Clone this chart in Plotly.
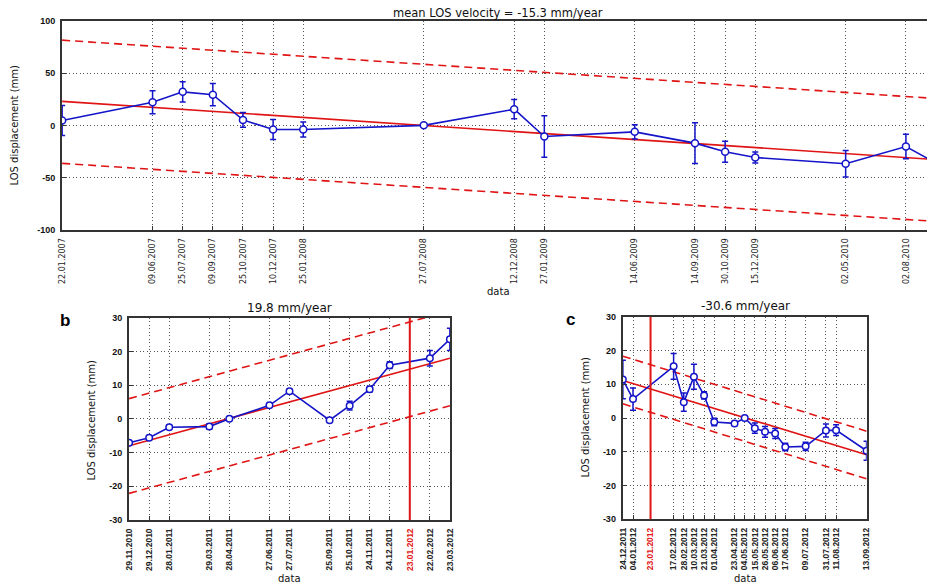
import plotly.graph_objects as go
import pandas as pd

# ---------------- data ----------------
# panel a (top)
dates_a = ["2007-01-22", "2007-06-09", "2007-07-25", "2007-09-09", "2007-10-25", "2007-12-10",
           "2008-01-25", "2008-07-27", "2008-12-12", "2009-01-27", "2009-06-14", "2009-09-14",
           "2009-10-30", "2009-12-15", "2010-05-02", "2010-08-02", "2010-09-17"]
disp_a = [4.6, 22, 32, 29.3, 5.2, -4, -4, 0, 15.4, -10.7, -6.2, -17, -25.2, -30.7, -36.7, -20.2, -36]
err_a = [14.3, 11, 9.7, 10.6, 7, 9.5, 7.1, 0, 9.2, 19.8, 6.8, 19.5, 10, 5.2, 12.7, 11.7, 14.5]
fit_a_x = ["2007-01-22", "2010-09-28"]
fit_a = [22.9, -33.2]
upper_a = [81.4, 25.2]
lower_a = [-36.3, -92.3]

# panel b
dates_b = ["2010-11-29", "2010-12-29", "2011-01-28", "2011-03-29", "2011-04-28", "2011-06-27",
           "2011-07-27", "2011-09-25", "2011-10-25", "2011-11-24", "2011-12-24", "2012-02-22",
           "2012-03-23"]
disp_b = [-7.1, -5.6, -2.5, -2.3, 0, 4.0, 8.2, -0.4, 3.9, 8.8, 15.9, 18.0, 23.6]
err_b = [0.5, 0.5, 0.6, 0.8, 0.3, 0.5, 0.5, 0.5, 1.3, 0.8, 1.0, 2.3, 3.3]
fit_b_x = ["2010-11-29", "2012-03-23"]
fit_b = [-8.0, 18.0]
upper_b = [6.0, 32.0]
lower_b = [-22.1, 3.9]

# panel c
dates_c = ["2011-12-24", "2012-01-04", "2012-02-17", "2012-02-28", "2012-03-10", "2012-03-21",
           "2012-04-01", "2012-04-23", "2012-05-04", "2012-05-15", "2012-05-26", "2012-06-06",
           "2012-06-17", "2012-07-09", "2012-07-31", "2012-08-11", "2012-09-13"]
disp_c = [11.4, 5.6, 15.3, 4.7, 12.2, 6.7, -1.2, -1.6, 0, -3.0, -4.1, -4.6, -8.6, -8.4, -3.7, -3.6, -9.7]
err_c = [5.7, 3.3, 3.8, 2.7, 3.7, 1.1, 1.1, 0.6, 0.3, 1.5, 1.6, 1.5, 1.1, 1.2, 1.9, 1.6, 2.8]
fit_c_x = ["2011-12-24", "2012-09-13"]
fit_c = [11.1, -10.9]
upper_c = [18.3, -3.9]
lower_c = [4.2, -18.0]

event_date = "2012-01-23"

titles = ["mean LOS velocity = -15.3 mm/year", "19.8 mm/year", "-30.6 mm/year"]
ytick_a = [-100, -50, 0, 50, 100]
ytick_bc = [-30, -20, -10, 0, 10, 20, 30]

# ---------------- styles ----------------
W, H = 935, 588
OFF = 8  # the page body has an 8px margin; positions below are page pixels
BLUE = "#1414c8"
RED = "#e01414"
FRAME = "#333333"
GRID = "#555555"
GRID_DASH = "1px,2.5px"


def px_x(x):
    return (x - OFF) / W


def px_y(y):
    return 1 - (y - OFF) / H


def fmt(d):
    return pd.Timestamp(d).strftime("%d.%m.%Y")


def ticks_with_event(dates):
    vals = sorted(dates + [event_date])
    txt = []
    for v in vals:
        if v == event_date:
            txt.append('<span style="color:#e01414">' + fmt(v) + '</span>')
        else:
            txt.append(fmt(v))
    return vals, txt


fig = go.Figure()


def add_panel(xs, ys, es, fx, fy, up, lo, xa, ya, msize):
    for yy, dash in ((up, "8px,5px"), (lo, "8px,5px"), (fy, "solid")):
        fig.add_trace(go.Scatter(x=fx, y=yy, mode="lines", xaxis=xa, yaxis=ya,
                                 line=dict(color=RED, width=1.6, dash=dash),
                                 hoverinfo="skip", showlegend=False))
    fig.add_trace(go.Scatter(x=xs, y=ys, mode="lines+markers", xaxis=xa, yaxis=ya,
                             line=dict(color=BLUE, width=1.6),
                             marker=dict(symbol="circle", size=msize, color="white",
                                         line=dict(color=BLUE, width=1.5)),
                             error_y=dict(type="data", array=es, visible=True,
                                          color=BLUE, thickness=1.5, width=3),
                             showlegend=False))


add_panel(dates_a, disp_a, err_a, fit_a_x, fit_a, upper_a, lower_a, "x", "y", 7)
add_panel(dates_b, disp_b, err_b, fit_b_x, fit_b, upper_b, lower_b, "x2", "y2", 6.5)
add_panel(dates_c, disp_c, err_c, fit_c_x, fit_c, upper_c, lower_c, "x3", "y3", 6.5)

# vertical event lines
for xa, ya in (("x2", "y2"), ("x3", "y3")):
    fig.add_shape(type="line", xref=xa, yref=ya + " domain", x0=event_date, x1=event_date,
                  y0=0, y1=1, line=dict(color=RED, width=2))

tick_a_font = dict(family="DejaVu Sans", size=8, color="#222")
tick_bc_font = dict(family="Liberation Sans", size=8.5, color="#222", weight=700)
ytick_font = dict(family="Liberation Sans", size=9, color="#111", weight=700)


def xaxis_common(vals, txt, rng, domain, anchor, font, mirror=True):
    return dict(type="date", range=rng, domain=domain, anchor=anchor, automargin=False,
                tickmode="array", tickvals=vals, ticktext=txt, tickangle=-90,
                tickfont=font, ticks="inside", ticklen=4, tickcolor=FRAME,
                showgrid=True, gridcolor=GRID, griddash=GRID_DASH, gridwidth=1,
                showline=True, linecolor=FRAME, linewidth=2, mirror=mirror,
                zeroline=False, ticklabelstandoff=3, fixedrange=True)


def yaxis_common(vals, rng, domain, anchor, mirror=True):
    return dict(range=rng, domain=domain, anchor=anchor, automargin=False,
                tickmode="array", tickvals=vals, ticktext=[str(v) for v in vals],
                tickfont=ytick_font, ticks="inside", ticklen=4, tickcolor=FRAME,
                showgrid=True, gridcolor=GRID, griddash=GRID_DASH, gridwidth=1,
                showline=True, linecolor=FRAME, linewidth=2, mirror=mirror,
                zeroline=False, ticklabelstandoff=3, fixedrange=True)


xb_vals, xb_txt = ticks_with_event(dates_b)
xc_vals, xc_txt = ticks_with_event(dates_c)

fig.update_layout(
    template="none",
    width=W, height=H, margin=dict(l=0, r=0, t=0, b=0, autoexpand=False),
    paper_bgcolor="white", plot_bgcolor="white", showlegend=False,
    xaxis=xaxis_common(dates_a, [fmt(d) for d in dates_a],
                       ["2007-01-21 18:00", "2010-09-27 14:00"], [px_x(62), 1.0], "y", tick_a_font),
    yaxis=yaxis_common(ytick_a, [-100, 100], [px_y(230), px_y(20.7)], "x", mirror=False),
    xaxis2=xaxis_common(xb_vals, xb_txt, ["2010-11-28 20:00", "2012-03-23 04:00"],
                        [px_x(129), px_x(450)], "y2", tick_bc_font),
    yaxis2=yaxis_common(ytick_bc, [-30, 30], [px_y(520), px_y(317.7)], "x2"),
    xaxis3=xaxis_common(xc_vals, xc_txt, ["2011-12-23 20:00", "2012-09-13 04:00"],
                        [px_x(622.7), px_x(866.7)], "y3", tick_bc_font),
    yaxis3=yaxis_common(ytick_bc, [-30, 30], [px_y(519.3), px_y(316.7)], "x3"),
)


def ann(text, x, y, size=10, angle=0, family="DejaVu Sans", color="#111", bold=False):
    fig.add_annotation(text=("<b>" + text + "</b>") if bold else text,
                       x=px_x(x), y=px_y(y), xref="paper", yref="paper",
                       showarrow=False, textangle=angle, xanchor="center", yanchor="middle",
                       font=dict(family=family, size=size, color=color))


ann(titles[0], 498, 13, size=11.5)
ann(titles[1], 289.5, 308, size=12)
ann(titles[2], 745, 305.5, size=12)
for x, y in ((498, 291), (289.5, 578), (745, 578)):
    ann("data", x, y, size=10)
for x, y in ((14, 125.5), (90.5, 420), (585, 417.5)):
    ann("LOS displacement (mm)", x, y, size=10, angle=-90)
ann("b", 65, 320, size=17, family="Liberation Sans", bold=True, color="#000")
ann("c", 570, 319.5, size=17, family="Liberation Sans", bold=True, color="#000")

fig.write_html("out.html")
